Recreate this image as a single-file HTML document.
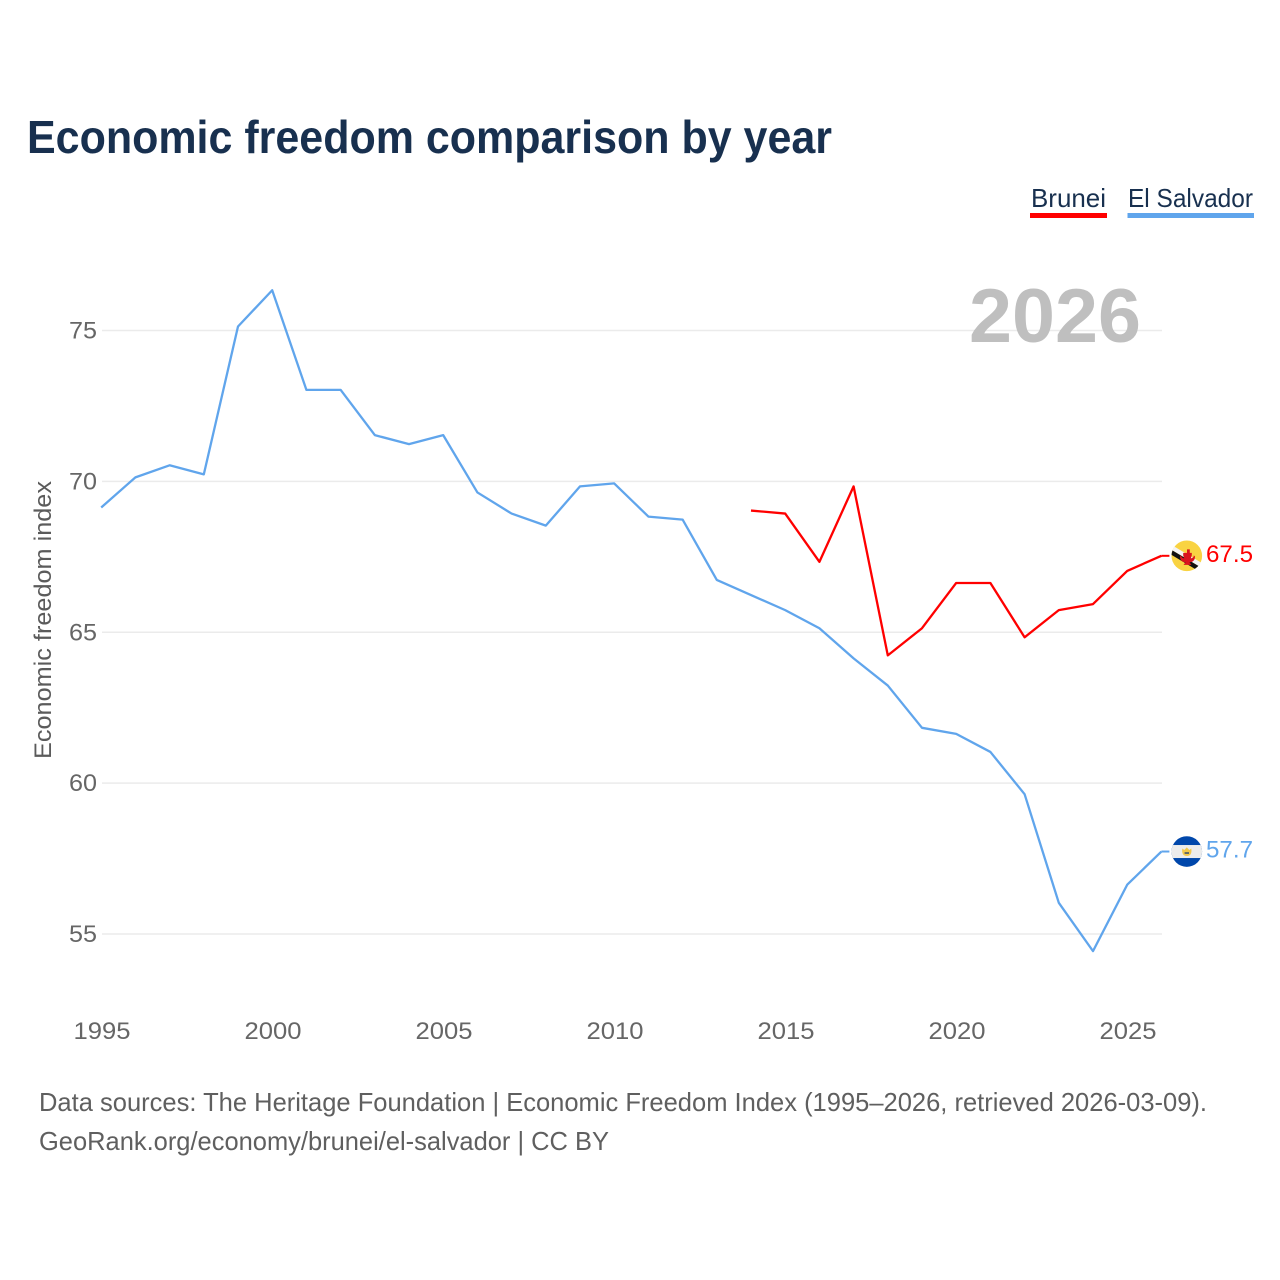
<!DOCTYPE html>
<html lang="en">
<head>
<meta charset="utf-8">
<title>Economic freedom comparison by year</title>
<style>
html,body{margin:0;padding:0;background:#fff;}
svg{display:block;font-family:"Liberation Sans",Arial,sans-serif;}
</style>
</head>
<body>
<svg id="chart" xmlns="http://www.w3.org/2000/svg" width="1280" height="1280" viewBox="0 0 1280 1280">
  <defs>
    <clipPath id="flag-clip-brunei"><circle id="clip-brunei" cx="0" cy="0" r="15.3"/></clipPath>
    <clipPath id="flag-clip-salvador"><circle id="clip-salvador" cx="0" cy="0" r="15.3"/></clipPath>
  </defs>
  <rect x="0" y="0" width="1280" height="1280" fill="#ffffff"/>
  <text x="27" y="153" font-size="46" font-weight="700" fill="#18304f" textLength="805" lengthAdjust="spacingAndGlyphs">Economic freedom comparison by year</text>

  <g>
    <text x="1031" y="207" font-size="26" fill="#18304f" textLength="75" lengthAdjust="spacingAndGlyphs">Brunei</text>
    <rect x="1030" y="213" width="77" height="5" fill="#ff0000"/>
  </g>
  <g>
    <text x="1128" y="207" font-size="26" fill="#18304f" textLength="125" lengthAdjust="spacingAndGlyphs">El Salvador</text>
    <rect x="1127.5" y="213" width="126.5" height="5" fill="#60a5ec"/>
  </g>

  <g id="grid"></g>
  <g id="y-ticks"></g>
  <g id="x-ticks"></g>

  <text transform="translate(51 620) rotate(-90)" text-anchor="middle" font-size="24" fill="#5b5b5b" textLength="278" lengthAdjust="spacingAndGlyphs">Economic freedom index</text>

  <text id="year-watermark" x="969" y="342" font-size="76" font-weight="700" fill="#bfbfbf" textLength="172" lengthAdjust="spacingAndGlyphs"></text>

  <g id="series" transform="translate(-0.8 -1)"></g>

  <g id="flag-brunei">
    <g clip-path="url(#flag-clip-brunei)">
      <rect x="-16" y="-16" width="32" height="32" fill="#f9d342"/>
      <polygon points="-16,-11.4 16,7.8 16,12.8 -16,-6.4" fill="#f4f4f4"/>
      <polygon points="-16,-6.4 16,12.8 16,17.8 -16,-1.4" fill="#111111"/>
      <path d="M0.2,-6.5 h2.8 v3.5 h2 v2.5 l-1,3 q3,-0.5 3,-3 l1.2,1 q0,5.5 -5.5,6 l2,2.5 h-8 l2,-2.5 q-5.5,-0.5 -5.5,-6 l1.2,-1 q0,2.5 3,3 l-1,-3 v-2.5 h3.800 z" fill="#d9141e"/>
    </g>
  </g>
  <g id="flag-salvador">
    <g clip-path="url(#flag-clip-salvador)">
      <rect x="-16" y="-16" width="32" height="32" fill="#0047ab"/>
      <rect x="-16" y="-6.5" width="32" height="13" fill="#ececec"/>
      <path d="M-4.500,-3 L-2.500,-1.500 L0,-4.200 L2.500,-1.500 L4.500,-3 Q5.500,4.500 0,4.500 Q-5.500,4.500 -4.500,-3 Z" fill="#f2c94c"/>
      <rect x="-2.200" y="0.600" width="4.400" height="1.800" fill="#55606b"/>
    </g>
  </g>

  <text id="value-brunei" x="1206" font-size="24" fill="#ff0000" textLength="47" lengthAdjust="spacingAndGlyphs"></text>
  <text id="value-salvador" x="1206" font-size="24" fill="#60a5ec" textLength="47" lengthAdjust="spacingAndGlyphs"></text>

  <text x="39" y="1111" font-size="26" fill="#5f5f5f" textLength="1168" lengthAdjust="spacingAndGlyphs">Data sources: The Heritage Foundation | Economic Freedom Index (1995–2026, retrieved 2026-03-09).</text>
  <text x="39" y="1150" font-size="26" fill="#5f5f5f" textLength="570" lengthAdjust="spacingAndGlyphs">GeoRank.org/economy/brunei/el-salvador | CC BY</text>
</svg>
<script>
const yTickValues = [55, 60, 65, 70, 75];
const xTickYears = [1995, 2000, 2005, 2010, 2015, 2020, 2025];
const salvadorYears = [1995,1996,1997,1998,1999,2000,2001,2002,2003,2004,2005,2006,2007,2008,2009,2010,2011,2012,2013,2014,2015,2016,2017,2018,2019,2020,2021,2022,2023,2024,2025,2026];
const salvadorValues = [69.1,70.1,70.5,70.2,75.1,76.3,73.0,73.0,71.5,71.2,71.5,69.6,68.9,68.5,69.8,69.9,68.8,68.7,66.7,66.2,65.7,65.1,64.1,63.2,61.8,61.6,61.0,59.6,56.0,54.4,56.6,57.7];
const bruneiYears = [2014,2015,2016,2017,2018,2019,2020,2021,2022,2023,2024,2025,2026];
const bruneiValues = [69.0,68.9,67.3,69.8,64.2,65.1,66.6,66.6,64.8,65.7,65.9,67.0,67.5];

const NS = 'http://www.w3.org/2000/svg';
function xScale(year) { return 102 + (year - 1995) * (1128 - 102) / 30; }
function yScale(value) { return 330.5 + (75 - value) * (934 - 330.5) / 20; }
function make(tag, attrs, parent) {
  const el = document.createElementNS(NS, tag);
  for (const k in attrs) el.setAttribute(k, attrs[k]);
  parent.appendChild(el);
  return el;
}

const grid = document.getElementById('grid');
const yTicks = document.getElementById('y-ticks');
const xTicks = document.getElementById('x-ticks');
yTickValues.forEach(function (v) {
  const line = make('line', {x1: 102, x2: 1162, y1: yScale(v), y2: yScale(v), stroke: '#ebebeb', 'stroke-width': 1.5}, grid);
  
  
  const t = make('text', {x: 97, y: yScale(v) + 8, 'text-anchor': 'end', 'font-size': 24, fill: '#666666', textLength: 28, lengthAdjust: 'spacingAndGlyphs'}, yTicks);
  
  
  t.textContent = v;
});
xTickYears.forEach(function (yr) {
  const t = make('text', {x: xScale(yr), y: 1039, 'text-anchor': 'middle', 'font-size': 24, fill: '#666666', textLength: 57, lengthAdjust: 'spacingAndGlyphs'}, xTicks);
  
  
  t.textContent = yr;
});

const seriesGroup = document.getElementById('series');
function pathFor(years, values) {
  return years.map(function (yr, i) {
    return (i ? 'L' : 'M') + xScale(yr).toFixed(2) + ' ' + yScale(values[i]).toFixed(2);
  }).join(' ');
}
const salvadorLine = make('path', {d: pathFor(salvadorYears, salvadorValues), fill: 'none', stroke: '#60a5ec', 'stroke-width': 2.3, 'stroke-linejoin': 'round'}, seriesGroup);


const bruneiLine = make('path', {d: pathFor(bruneiYears, bruneiValues), fill: 'none', stroke: '#ff0000', 'stroke-width': 2.3, 'stroke-linejoin': 'round'}, seriesGroup);



function endMarker(name, years, values, color, flagId, valueId) {
  const last = values[values.length - 1];
  const lastX = xScale(years[years.length - 1]);
  const yy = yScale(last);
  const c = make('line', {x1: lastX, x2: lastX + 8, y1: yy, y2: yy, stroke: color, 'stroke-width': 2}, seriesGroup);
  
  
  document.getElementById(flagId).setAttribute('transform', 'translate(1186.8 ' + (yy - 1) + ')');
  const label = document.getElementById(valueId);
  label.setAttribute('y', yy + 5);
  label.textContent = last.toFixed(1);
}
endMarker('brunei', bruneiYears, bruneiValues, '#ff0000', 'flag-brunei', 'value-brunei');
endMarker('el-salvador', salvadorYears, salvadorValues, '#60a5ec', 'flag-salvador', 'value-salvador');
document.getElementById('year-watermark').textContent = salvadorYears[salvadorYears.length - 1];
</script>
</body>
</html>
